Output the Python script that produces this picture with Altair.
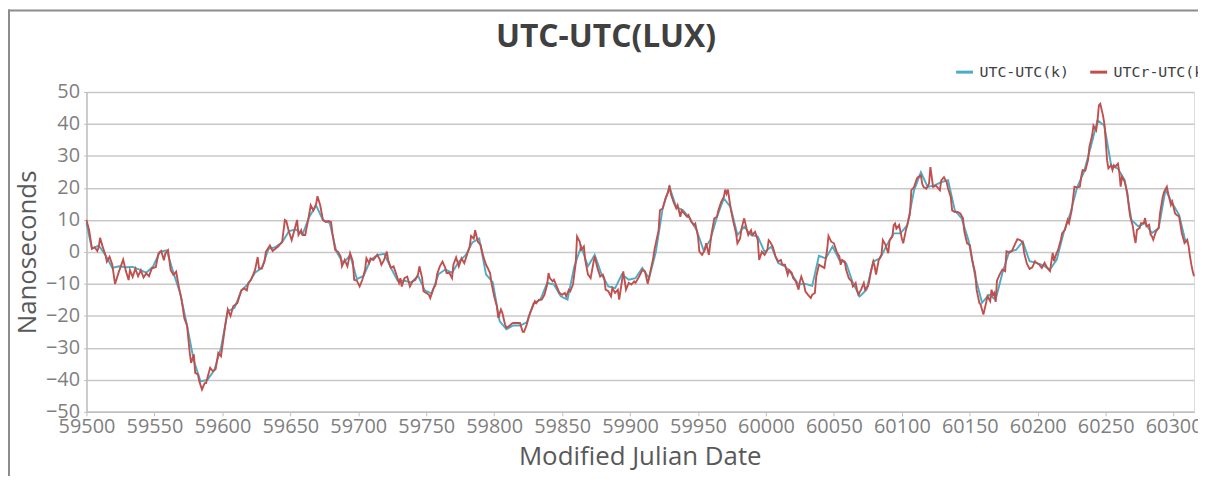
import altair as alt
import pandas as pd

TITLE = "UTC-UTC(LUX)"
TEAL_NAME = "UTC-UTC(k)"
RED_NAME = "UTCr-UTC(k)"

red_mjd = [59500, 59502, 59504, 59506, 59508, 59509, 59510, 59512, 59514, 59515, 59517, 59519, 59521, 59524, 59527,
           59529, 59531, 59532, 59534, 59536, 59538, 59540, 59542, 59544, 59546, 59548, 59551, 59553, 59555, 59557,
           59558, 59560, 59562, 59564, 59566, 59568, 59570, 59572, 59574, 59576, 59577, 59579, 59580, 59582, 59583,
           59585, 59587, 59588, 59591, 59593, 59595, 59597, 59599, 59602, 59604, 59606, 59608, 59611, 59614, 59616,
           59618, 59619, 59621, 59622, 59624, 59626, 59627, 59629, 59631, 59632, 59635, 59637, 59639, 59641, 59643,
           59644, 59646, 59647, 59649, 59651, 59653, 59655, 59656, 59658, 59659, 59661, 59664, 59665, 59667, 59669,
           59670, 59672, 59674, 59676, 59678, 59680, 59681, 59683, 59685, 59687, 59688, 59690, 59692, 59694, 59696,
           59697, 59699, 59701, 59703, 59705, 59706, 59708, 59709, 59711, 59714, 59716, 59717, 59719, 59721, 59722,
           59724, 59726, 59728, 59730, 59731, 59732, 59734, 59736, 59737, 59738, 59740, 59742, 59744, 59745, 59747,
           59748, 59750, 59752, 59753, 59755, 59757, 59758, 59760, 59762, 59764, 59765, 59767, 59769, 59770, 59772,
           59774, 59776, 59778, 59780, 59782, 59783, 59785, 59786, 59788, 59790, 59792, 59794, 59795, 59797, 59798,
           59800, 59802, 59803, 59805, 59806, 59808, 59809, 59811, 59813, 59814, 59816, 59817, 59819, 59821, 59822,
           59824, 59826, 59828, 59830, 59831, 59833, 59835, 59837, 59839, 59840, 59841, 59843, 59844, 59846, 59848,
           59850, 59852, 59853, 59855, 59856, 59858, 59860, 59861, 59863, 59864, 59866, 59867, 59869, 59871, 59873,
           59874, 59876, 59878, 59880, 59881, 59882, 59884, 59886, 59887, 59889, 59891, 59892, 59894, 59895, 59897,
           59899, 59901, 59903, 59904, 59906, 59908, 59909, 59911, 59913, 59915, 59917, 59918, 59921, 59922, 59924,
           59926, 59928, 59929, 59930, 59932, 59934, 59935, 59937, 59938, 59940, 59942, 59943, 59945, 59947, 59948,
           59950, 59951, 59953, 59955, 59956, 59958, 59960, 59962, 59964, 59965, 59967, 59969, 59970, 59971, 59972,
           59974, 59976, 59978, 59979, 59981, 59982, 59984, 59986, 59987, 59989, 59990, 59992, 59994, 59995, 59997,
           59999, 60001, 60002, 60003, 60005, 60007, 60009, 60011, 60012, 60014, 60016, 60017, 60019, 60020, 60022,
           60024, 60025, 60026, 60028, 60029, 60031, 60033, 60034, 60036, 60037, 60039, 60041, 60043, 60045, 60046,
           60048, 60050, 60052, 60054, 60055, 60056, 60058, 60059, 60061, 60063, 60064, 60066, 60067, 60068, 60070,
           60072, 60073, 60075, 60076, 60077, 60079, 60080, 60081, 60083, 60085, 60086, 60088, 60090, 60091, 60093,
           60094, 60095, 60096, 60098, 60100, 60101, 60103, 60104, 60106, 60107, 60109, 60111, 60112, 60114, 60115,
           60116, 60118, 60120, 60121, 60122, 60123, 60125, 60127, 60128, 60129, 60131, 60133, 60134, 60136, 60137,
           60139, 60141, 60143, 60145, 60146, 60148, 60150, 60152, 60154, 60155, 60157, 60158, 60160, 60162, 60163,
           60165, 60166, 60167, 60168, 60169, 60170, 60172, 60174, 60176, 60177, 60179, 60181, 60183, 60185, 60187,
           60189, 60190, 60192, 60194, 60196, 60198, 60199, 60201, 60203, 60205, 60207, 60209, 60211, 60212, 60213,
           60215, 60217, 60218, 60220, 60222, 60223, 60225, 60227, 60229, 60231, 60232, 60233, 60235, 60237, 60238,
           60240, 60241, 60243, 60244, 60245, 60246, 60248, 60249, 60250, 60251, 60252, 60254, 60255, 60256, 60257,
           60259, 60260, 60261, 60262, 60264, 60266, 60267, 60268, 60270, 60271, 60272, 60273, 60275, 60276, 60278,
           60279, 60280, 60282, 60283, 60284, 60285, 60287, 60289, 60290, 60292, 60293, 60295, 60296, 60298, 60299,
           60301, 60302, 60304, 60306, 60308, 60310, 60311, 60312, 60313, 60314, 60315]

red_ns = [10, 6.7, 1, 1.5, 0.3, 1.5, 4.4, 1.5, -1, -3, -1.5, -4, -10, -6, -2.4,
          -6, -8.8, -5.7, -7.8, -5.2, -7.6, -5.7, -8, -6.7, -7.6, -5.2, -4.7, -0.5, 0.3, -2.6,
          -0.5, 0.5, -5.7, -7.2, -6.2, -11, -15, -20.7, -23, -31.6, -34.7, -32, -37.8, -38.3, -40.4,
          -43, -41, -41, -36.2, -37.3, -36.7, -31.6, -32.6, -23.3, -18, -20, -17, -16, -12, -11.4,
          -12, -9.8, -8.8, -7.8, -5.7, -1.6, -5.2, -5.2, -3, 0, 2, 0.3, 1, 1.7, 2.7,
          3.2, 10, 9.7, 6.3, 3.7, 6.8, 10, 5.3, 6.8, 5.3, 5.3, 12, 14.6, 13, 15,
          17.4, 14.6, 10, 9.4, 9.7, 9.4, 5.8, 0.6, 0.1, -1.4, -4.5, -2.5, -4.5, -0.4, -3,
          -8.7, -9, -10.8, -8.7, -5.6, -2, -3.5, -2, -2.5, -0.9, -2.5, -4, -2.5, 0.1, -2.5,
          -5, -4.5, -7, -9.7, -8.2, -10.8, -8.2, -7.7, -9.2, -10.8, -9.2, -8.7, -7, -4.5, -8.2,
          -12.3, -12.8, -13.4, -14.4, -11.8, -10.2, -7, -4.5, -3, -5, -6.6, -6.6, -8.2, -4, -1.7,
          -4.5, -2, -3.5, -0.9, 1.7, 5, 4.2, 6.8, 3.2, 2.2, -1.4, -4, -4.8, -6.6, -9.7,
          -13.9, -17, -20.6, -18, -19, -22.7, -23.7, -23.2, -22.4, -22.2, -22.2, -22.2, -22.2, -25, -25,
          -22.7, -19.6, -17.5, -15.4, -16, -14.9, -14.9, -13.4, -10.2, -6.6, -8.2, -9.2, -8.7, -10.8, -12.8,
          -13.4, -12.8, -13.9, -11.8, -12.3, -10.2, -3.5, 4.8, 3.2, 0.6, 1.7, -2.5, -7, -8.2, -3.5,
          -1.4, -5, -7.7, -7.1, -8.2, -11.8, -12.3, -13.9, -11.3, -12.8, -11.8, -14.9, -9.2, -6.1, -11.8,
          -9.7, -10.2, -9.2, -9.7, -8.2, -6.6, -5.6, -6.1, -10, -6, -2, 0.8, 6.8, 13, 13.6,
          16.7, 18.7, 20.8, 18.2, 15.6, 13.6, 14.6, 11, 13, 12, 11, 11.5, 9.4, 8.4, 8.9,
          4.8, 0.1, -0.9, 0.6, 2.7, -0.9, 5.8, 10.5, 11, 13, 15.6, 17.2, 19.5, 18.2, 19.5,
          13.6, 9.4, 5.8, 2.7, 4.2, 7.3, 10.5, 6.8, 5.3, 6.8, 5.3, 6.3, 3.7, -2.5, 0.1,
          -0.9, 0.6, 3.7, 3.2, 1.7, -1.4, -3, -2.5, -4, -4, -7.1, -5.6, -6.6, -8.2, -9.2,
          -11.8, -9.2, -7.7, -10.2, -12.3, -13.4, -14.4, -13.4, -12.8, -7.7, -4, -4.5, -5, 0.6, 5,
          3.2, 2.7, 0.1, -1.4, -4, -2.5, -3, -5.6, -8.2, -9.2, -10.8, -9.7, -11.8, -13.4, -11.8,
          -9.7, -11.8, -10.8, -9.2, -6.6, -3, -4.5, -7.1, -2.5, -0.9, 3.7, 2.2, -0.4, 3.7, 4.8,
          8.4, 8.9, 7.3, 8.4, 4.2, 2.7, 6.8, 8.4, 12, 19.3, 20.3, 22.9, 23.4, 23.9, 21.3,
          20.3, 19.8, 21.3, 26.5, 23.4, 20.3, 20.8, 19.8, 19.3, 22.4, 23.4, 21.8, 19.8, 17.2, 13,
          12.5, 12.5, 12, 10.5, 6.3, 2.7, 2.2, -3, -6.6, -11.8, -15.9, -16.5, -19.6, -15.9, -13.9,
          -15.4, -11.8, -13.5, -12.8, -15.6, -9, -7, -5.5, -6, 0.2, -0.2, 0.3, 2.2, 4, 3.7,
          3, -0.3, -3.7, -5.3, -4.8, -2.9, -3.4, -3.9, -5, -3.4, -5, -6, -0.3, -2.9, -1.3,
          0.7, 3.8, 5.9, 6.9, 10, 9, 13.1, 20.4, 20.2, 20.4, 23.5, 25.6, 25.4, 28.7, 32.8,
          36.4, 39.5, 38, 41.1, 45.8, 46.3, 42.7, 40.1, 34.9, 28.7, 26.1, 27.1, 25.6, 27.1, 26.6,
          27.6, 25, 20.4, 23.5, 21.9, 18.3, 14.2, 11.1, 8, 4.9, 2.8, 6.9, 7.5, 9, 9,
          10.6, 8, 8.5, 5.4, 4.9, 3.8, 6.4, 7.5, 12.1, 17.3, 18.8, 20.4, 18.3, 14.7, 15.7,
          12.1, 11.6, 11.1, 5.9, 2.8, 3.8, 1.8, -1.3, -3.9, -6, -7.6]

teal_mjd = [59500, 59504, 59509, 59514, 59519, 59524, 59529, 59534, 59539, 59544, 59549, 59554, 59559, 59564,
            59569, 59574, 59579, 59584, 59589, 59594, 59599, 59604, 59609, 59614, 59619, 59624, 59629, 59634,
            59639, 59644, 59649, 59654, 59659, 59664, 59669, 59674, 59679, 59684, 59689, 59694, 59699, 59704,
            59709, 59714, 59719, 59724, 59729, 59734, 59739, 59744, 59749, 59754, 59759, 59764, 59769, 59774,
            59779, 59784, 59789, 59794, 59799, 59804, 59809, 59814, 59819, 59824, 59829, 59834, 59839, 59844,
            59849, 59854, 59859, 59864, 59869, 59874, 59879, 59884, 59889, 59894, 59899, 59904, 59909, 59914,
            59919, 59924, 59929, 59934, 59939, 59944, 59949, 59954, 59959, 59964, 59969, 59974, 59979, 59984,
            59989, 59994, 59999, 60004, 60009, 60014, 60019, 60024, 60029, 60034, 60039, 60044, 60049, 60054,
            60059, 60064, 60069, 60074, 60079, 60084, 60089, 60094, 60099, 60104, 60109, 60114, 60119, 60124,
            60129, 60134, 60139, 60144, 60149, 60154, 60159, 60164, 60169, 60174, 60179, 60184, 60189, 60194,
            60199, 60204, 60209, 60214, 60219, 60224, 60229, 60234, 60239, 60244, 60249, 60254, 60259, 60264,
            60269, 60274, 60279, 60284, 60289, 60294, 60299, 60304, 60309]

teal_ns = [9, 1, 2, -1, -5, -4.5, -4.8, -4.7, -5.5, -6.5, -4.5, 0, 0.5, -6.5,
           -13, -23, -34, -40.5, -40, -37, -30, -18.5, -17.5, -12, -10, -6.5, -5, 1,
           1.5, 3, 6.5, 7, 5.5, 11, 14.5, 10, 9, 0, -3.5, -1, -8.5, -7.5,
           -2.5, -1, -0.6, -5, -9, -9, -9.5, -7.5, -12, -13, -7, -5.5, -6.5, -3,
           -1, 3, 4.2, -7, -9.5, -21.6, -24.2, -23, -23, -22, -16, -15, -9.7, -10.2,
           -13.9, -14.9, -4.5, 1.7, -4.5, -0.9, -7, -10.8, -11.3, -7, -8.7, -8.2, -5, -8.2,
           0, 13.6, 20.3, 14, 13, 10.5, 6.8, 0.6, 3.7, 11, 16.7, 14, 5.3, 7.9,
           5.3, 4.8, 0, 1.7, -3.5, -4.5, -7, -10.2, -10, -10.6, -1.2, -2, 1.7, -2.5,
           -3.5, -9.7, -13.9, -11.8, -3, -2, 2.2, 5.8, 5.8, 8.4, 19.3, 24.9, 20.3, 20.8,
           21.8, 22.4, 13, 10.5, 3.7, -7.7, -15.9, -13.4, -14.9, -6.6, 0.1, 0.6, 3.2, -2.9,
           -3.4, -4.2, -5.5, -2.4, 5.9, 12.1, 20.2, 25, 32.8, 41.1, 39.5, 27.1, 26, 22.5,
           10, 8, 9, 5.9, 7.5, 19.4, 15.2, 11.6, 2.8]

x_ticks = list(range(59500, 60301, 50))
y_ticks = list(range(-50, 51, 10))

df = pd.concat([
    pd.DataFrame({"mjd": teal_mjd, "ns": teal_ns, "series": TEAL_NAME}),
    pd.DataFrame({"mjd": red_mjd, "ns": red_ns, "series": RED_NAME}),
], ignore_index=True)

W, H = 1115, 322
FONT = "Open Sans"

lines = alt.Chart(df).mark_line(strokeWidth=1.9).encode(
    x=alt.X("mjd:Q",
            scale=alt.Scale(domain=[59500, 60315], nice=False, zero=False),
            axis=alt.Axis(values=x_ticks, format="d", grid=False, labelFlush=False, labelOverlap=False,
                          domainColor="#bfbfbf", domainWidth=1.5, tickColor="#bfbfbf", tickSize=4,
                          labelColor="#7f7f7f", labelFont=FONT, labelFontSize=20, labelPadding=1,
                          title="Modified Julian Date", titleFont=FONT, titleFontSize=26,
                          titleFontWeight="normal", titleColor="#595959",
                          titleX=557, titleY=45, titleBaseline="middle", titleAlign="center")),
    y=alt.Y("ns:Q",
            scale=alt.Scale(domain=[-50, 50], nice=False, zero=False),
            axis=alt.Axis(values=y_ticks, grid=True, gridColor="#c8c8c8", gridWidth=1.5,
                          domainColor="#bfbfbf", domainWidth=1.5, tickColor="#bfbfbf", tickSize=3,
                          labelColor="#7f7f7f", labelFont=FONT, labelFontSize=20, labelPadding=4,
                          title="Nanoseconds", titleFont=FONT, titleFontSize=26,
                          titleFontWeight="normal", titleColor="#595959",
                          titleX=-59, titleY=161, titleAngle=270, titleBaseline="middle",
                          titleAlign="center")),
    color=alt.Color("series:N",
                    scale=alt.Scale(domain=[TEAL_NAME, RED_NAME], range=["#4bacc6", "#c0504d"]),
                    legend=alt.Legend(title=None, orient="none", legendX=874, legendY=-30,
                                      direction="horizontal", symbolType="stroke",
                                      symbolStrokeWidth=3, symbolSize=289, labelFont="DejaVu Sans Mono",
                                      labelFontSize=15, labelColor="#404040", labelOffset=5,
                                      columnPadding=14, padding=0)),
)

one = pd.DataFrame({"k": [0]})
top_border = alt.Chart(one).mark_rule(color="#8c8c8c", strokeWidth=2).encode(
    x=alt.value(-79), x2=alt.value(1200), y=alt.value(-82))
left_border = alt.Chart(one).mark_rule(color="#8c8c8c", strokeWidth=2).encode(
    x=alt.value(-78), y=alt.value(-83), y2=alt.value(400))
title = alt.Chart(one).mark_text(font=FONT, fontSize=32, fontWeight="bold", color="#404040",
                                 align="center", baseline="middle").encode(
    x=alt.value(523), y=alt.value(-55), text=alt.value(TITLE))

chart = alt.layer(top_border, left_border, title, lines).properties(
    width=W, height=H,
    autosize=alt.AutoSizeParams(type="none"),
    padding={"left": 79, "top": 83, "right": 4, "bottom": 63},
).configure_view(strokeWidth=0).configure(background="white")

chart.save("out.html", embed_options={"renderer": "svg", "actions": False})
